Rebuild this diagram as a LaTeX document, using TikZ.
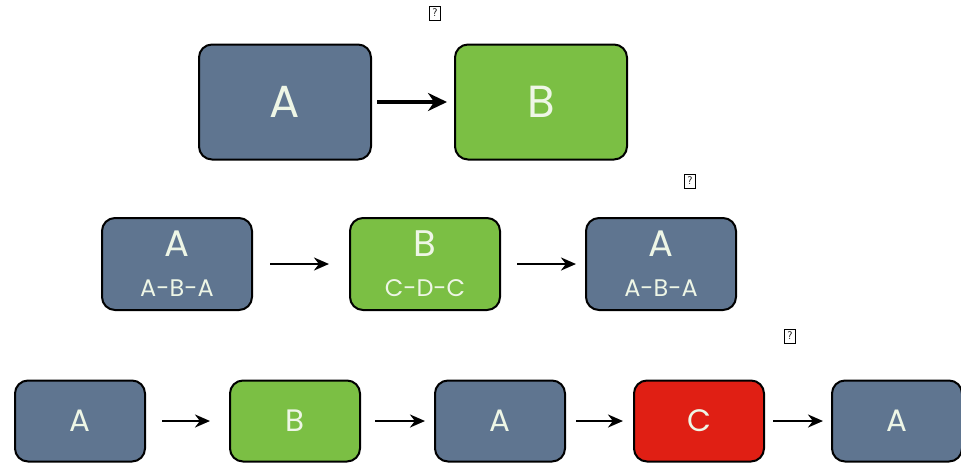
\documentclass[tikz,border=0pt]{standalone}
\usepackage{fontspec}
\setmainfont{Poppins}
\usetikzlibrary{arrows.meta}
\definecolor{slate}{HTML}{5F7590}
\definecolor{leaf}{HTML}{7BBF44}
\definecolor{fire}{HTML}{E01F14}
\definecolor{pale}{HTML}{EEF6E6}
\tikzset{
  card/.style={draw=black, line width=2pt, rounded corners=13pt, inner sep=0pt, text=pale, align=center},
  bigcard/.style={card, minimum width=172pt, minimum height=115pt, font=\fontsize{45}{46}\selectfont},
  midcard/.style={card, minimum width=150pt, minimum height=92pt, font=\fontsize{24}{40}\selectfont},
  smallcard/.style={card, minimum width=130pt, minimum height=81pt, font=\fontsize{31}{34}\selectfont},
  flow/.style={-{Stealth[length=19pt,width=18pt]}, line width=3.8pt},
  flowthin/.style={-{Stealth[length=15pt,width=13pt]}, line width=2.6pt},
  missing/.style={draw=black, line width=0.8pt, inner sep=1pt, font=\fontsize{11}{11}\selectfont\sffamily, minimum width=11pt, minimum height=14pt}
}
\newcommand{\twoline}[2]{{\fontsize{37}{40}\selectfont #1}\\{#2}}
\begin{document}
\begin{tikzpicture}[x=1pt,y=-1pt]
\useasboundingbox (0,0) rectangle (961,464);
% row 1
\node[bigcard, fill=slate] (r1a) at (285,102) {A};
\node[bigcard, fill=leaf] (r1b) at (541,102) {B};
\draw[flow] ([xshift=5pt]r1a.east) -- ([xshift=-7pt]r1b.west);
% row 2
\node[midcard, fill=slate] (r2a) at (177,264) {\twoline{A}{A-B-A}};
\node[midcard, fill=leaf] (r2b) at (425,264) {\twoline{B}{C-D-C}};
\node[midcard, fill=slate] (r2c) at (661,264) {\twoline{A}{A-B-A}};
\draw[flowthin] ([xshift=17pt]r2a.east) -- ([xshift=-20pt]r2b.west);
\draw[flowthin] ([xshift=16pt]r2b.east) -- ([xshift=-9pt]r2c.west);
% row 3
\node[smallcard, fill=slate] (r3a) at (80,421) {A};
\node[smallcard, fill=leaf] (r3b) at (295,421) {B};
\node[smallcard, fill=slate] (r3c) at (500,421) {A};
\node[smallcard, fill=fire] (r3d) at (699,421) {C};
\node[smallcard, fill=slate] (r3e) at (897,421) {A};
\draw[flowthin] ([xshift=16pt]r3a.east) -- ([xshift=-19pt]r3b.west);
\draw[flowthin] ([xshift=14pt]r3b.east) -- ([xshift=-9pt]r3c.west);
\draw[flowthin] ([xshift=10pt]r3c.east) -- ([xshift=-10pt]r3d.west);
\draw[flowthin] ([xshift=8pt]r3d.east) -- ([xshift=-8pt]r3e.west);
% missing-glyph marks
\node[missing] (q1) at (435,13) {?};
\node[missing] (q2) at (690,181) {?};
\node[missing] (q3) at (790,336) {?};
\end{tikzpicture}
\end{document}
